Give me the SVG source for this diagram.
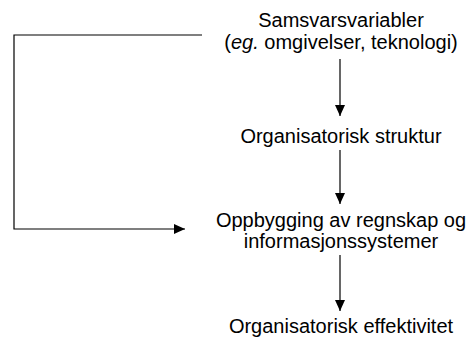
<svg xmlns="http://www.w3.org/2000/svg" width="468" height="338" viewBox="0 0 468 338">
<style>
text{font-family:"Liberation Sans",Arial,sans-serif;font-size:20px;fill:#000;text-anchor:middle}
.c{fill:none;stroke:#000;stroke-width:1.2}
</style>
<defs>
<marker id="ah" markerUnits="userSpaceOnUse" markerWidth="11" markerHeight="10" refX="11" refY="5" orient="auto">
<path d="M0,0 L11,5 L0,10 z" fill="#000"/>
</marker>
</defs>
<rect width="468" height="338" fill="#fff"/>
<g id="connectors">
<line class="c" x1="340" y1="59" x2="340" y2="116" marker-end="url(#ah)"/>
<line class="c" x1="340" y1="150" x2="340" y2="204" marker-end="url(#ah)"/>
<line class="c" x1="340" y1="255" x2="340" y2="311" marker-end="url(#ah)"/>
<polyline class="c" points="202,35 14,35 14,229 185,229" marker-end="url(#ah)"/>
</g>
<g id="samsvar">
<text x="341" y="27">Samsvarsvariabler</text>
<text x="341" y="49">(<tspan font-style="italic">eg.</tspan> omgivelser, teknologi)</text>
</g>
<g id="struktur">
<text x="341" y="143">Organisatorisk struktur</text>
</g>
<g id="oppbygging">
<text x="341" y="227">Oppbygging av regnskap og</text>
<text x="341" y="248">informasjonssystemer</text>
</g>
<g id="effektivitet">
<text x="341" y="333">Organisatorisk effektivitet</text>
</g>
</svg>
